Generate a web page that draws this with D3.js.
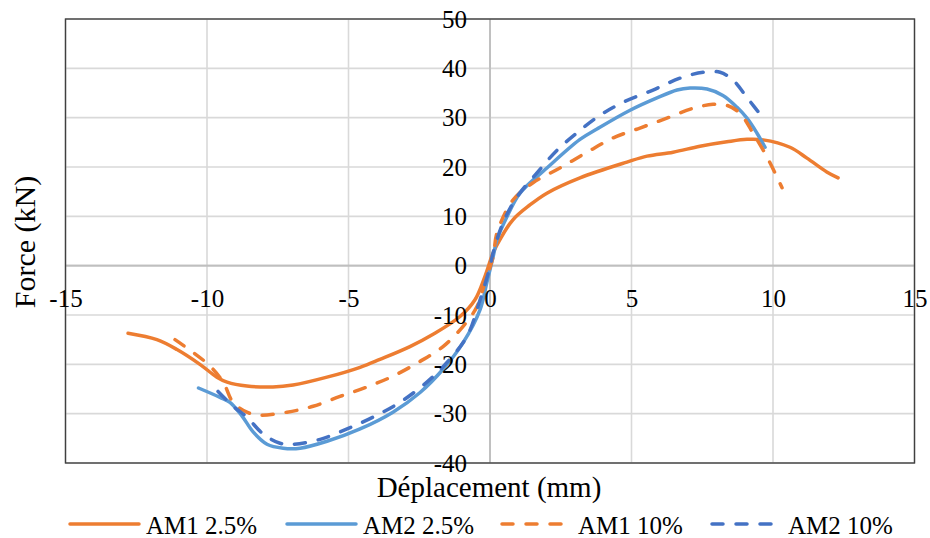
<!DOCTYPE html>
<html>
<head>
<meta charset="utf-8">
<script src="https://cdn.jsdelivr.net/npm/d3@7"></script>
<style>
  html, body { margin: 0; padding: 0; background: #fff; }
  svg text { font-family: "Liberation Serif", "Times New Roman", serif; fill: #000; }
</style>
</head>
<body>
<svg id="chart" width="930" height="538"></svg>
<script>
// ---------- data ----------
const xTicks = [-15, -10, -5, 0, 5, 10, 15];
const yTicks = [-40, -30, -20, -10, 0, 10, 20, 30, 40, 50];
const seriesNames = ["AM1 2.5%", "AM2 2.5%", "AM1 10%", "AM2 10%"];

const am1_25_x = [-12.79, -11.77, -11.06, -10.25, -9.65, -9.29, -8.59, -7.67, -6.96, -5.76, -4.59, -3.89, -2.83, -2.01, -1.06, -0.53, -0.18, 0.11, 0.35, 0.81, 1.41, 2.01, 3.18, 4.84, 5.55, 6.47, 7.42, 8.37, 9.08, 9.65, 10.6, 11.2, 11.9, 12.3];
const am1_25_y = [-13.7, -15.0, -17.0, -20.0, -22.6, -23.6, -24.4, -24.6, -24.2, -22.6, -20.6, -19.0, -16.4, -13.9, -10.3, -6.9, -2.2, 2.6, 5.3, 9.3, 12.3, 14.7, 17.8, 21.0, 22.2, 23.0, 24.2, 25.1, 25.6, 25.5, 24.0, 21.8, 19.0, 17.8];

const am2_25_x = [-10.3, -9.54, -9.19, -8.76, -8.37, -7.88, -7.31, -6.71, -5.76, -4.59, -3.43, -2.47, -1.66, -0.95, -0.35, -0.11, 0.11, 0.25, 0.6, 1.06, 2.01, 3.18, 3.78, 4.95, 5.9, 6.61, 7.07, 7.67, 8.23, 8.73, 9.08, 9.43, 9.72];
const am2_25_y = [-24.8, -26.7, -27.7, -30.5, -33.7, -36.2, -37.0, -37.0, -35.6, -33.1, -29.7, -25.7, -21.0, -15.6, -8.9, -3.4, 1.8, 5.3, 9.9, 14.7, 19.8, 25.6, 27.7, 31.5, 34.0, 35.6, 36.0, 35.8, 34.5, 32.1, 29.9, 26.9, 24.0];

const am1_10_x = [-11.13, -9.96, -9.43, -9.08, -8.59, -8.13, -7.17, -6.25, -5.3, -4.35, -3.43, -2.47, -1.66, -0.95, -0.46, -0.18, 0.11, 0.25, 0.81, 1.52, 2.47, 3.43, 4.35, 5.3, 6.25, 7.17, 7.88, 8.37, 8.83, 9.29, 9.79, 10.32];
const am1_10_y = [-15.0, -20.0, -23.6, -27.7, -29.7, -30.3, -29.7, -28.5, -26.5, -24.6, -22.4, -19.4, -16.4, -12.3, -8.3, -3.4, 1.8, 6.7, 13.3, 16.8, 19.8, 23.0, 25.9, 27.9, 29.9, 31.9, 32.7, 32.5, 30.9, 26.9, 22.0, 15.8];

const am2_10_x = [-9.61, -9.08, -8.59, -8.02, -7.42, -6.96, -6.0, -5.05, -4.13, -3.18, -2.23, -1.52, -0.81, -0.35, 0.0, 0.11, 0.46, 0.95, 1.66, 2.37, 3.07, 3.89, 4.7, 5.76, 6.71, 7.53, 8.13, 8.59, 9.08, 9.65];
const am2_10_y = [-25.5, -28.5, -30.7, -34.1, -36.0, -36.2, -35.2, -33.1, -30.7, -27.7, -23.6, -19.6, -14.3, -6.9, -0.2, 2.6, 8.7, 13.9, 18.8, 23.4, 26.9, 30.5, 33.1, 35.6, 38.0, 39.2, 39.2, 37.6, 34.1, 29.9];

// ---------- styles ----------
const colors = ["#ED7D31", "#5B9BD5", "#ED7D31", "#4472C4"];
const dashes = [null, null, "11,13", "11,13"];
const seriesX = [am1_25_x, am2_25_x, am1_10_x, am2_10_x];
const seriesY = [am1_25_y, am2_25_y, am1_10_y, am2_10_y];

const svg = d3.select("#chart");
const L = 65.5, R = 914.5, T = 19, B = 463;
const x = d3.scaleLinear().domain([-15, 15]).range([L, R]);
const y = d3.scaleLinear().domain([-40, 50]).range([B, T]);

// gridlines
const grid = svg.append("g");
grid.selectAll("line.v").data(xTicks).join("line")
  .attr("x1", d => x(d)).attr("x2", d => x(d)).attr("y1", T).attr("y2", B)
  .attr("stroke", d => d === 0 ? "#bfbfbf" : "#d9d9d9").attr("stroke-width", 1.6);
grid.selectAll("line.h").data(yTicks).join("line")
  .attr("x1", L).attr("x2", R).attr("y1", d => y(d)).attr("y2", d => y(d))
  .attr("stroke", d => d === 0 ? "#bfbfbf" : "#d9d9d9").attr("stroke-width", 1.6);
grid.append("line").attr("x1", x(0)).attr("x2", x(0)).attr("y1", T).attr("y2", B)
  .attr("stroke", "#bfbfbf").attr("stroke-width", 1.8);
grid.append("line").attr("x1", L).attr("x2", R).attr("y1", y(0)).attr("y2", y(0))
  .attr("stroke", "#bfbfbf").attr("stroke-width", 1.8);

// plot border
svg.append("rect").attr("x", L).attr("y", T).attr("width", R - L).attr("height", B - T)
  .attr("fill", "none").attr("stroke", "#404040").attr("stroke-width", 1.4);

// series
const line = d3.line().x(d => x(d[0])).y(d => y(d[1])).curve(d3.curveCatmullRom.alpha(0.5));
seriesX.forEach((xs, i) => {
  const pts = xs.map((v, j) => [v, seriesY[i][j]]);
  svg.append("path").datum(pts)
    .attr("d", line)
    .attr("fill", "none")
    .attr("stroke", colors[i])
    .attr("stroke-width", 3.5)
    .attr("stroke-linecap", "round")
    .attr("stroke-linejoin", "round")
    .attr("stroke-dasharray", dashes[i]);
});

// axes (labels at the zero lines), plain hyphen-minus as in the reference
const fmt = d => String(d);
const xAxis = d3.axisBottom(x).tickValues(xTicks).tickSize(0).tickPadding(0).tickFormat(fmt);
const gx = svg.append("g").attr("transform", `translate(0,${y(0)})`).call(xAxis);
gx.select(".domain").remove();
gx.selectAll("text").attr("font-size", 25).attr("font-family", "Liberation Serif")
  .attr("dy", null).attr("y", 41).attr("fill", "#000");

const yAxis = d3.axisLeft(y).tickValues(yTicks).tickSize(0).tickPadding(23).tickFormat(fmt);
const gy = svg.append("g").attr("transform", `translate(${x(0)},0)`).call(yAxis);
gy.select(".domain").remove();
gy.selectAll("text").attr("font-size", 25).attr("font-family", "Liberation Serif").attr("fill", "#000");

// axis titles
svg.append("text").attr("x", 489).attr("y", 497).attr("text-anchor", "middle")
  .attr("font-size", 29).text("Déplacement (mm)");
svg.append("text").attr("transform", "translate(35,242) rotate(-90)").attr("text-anchor", "middle")
  .attr("font-size", 30).text("Force (kN)");

// legend
const legendX = [70, 287, 502, 712];
const lg = svg.append("g");
seriesNames.forEach((name, i) => {
  lg.append("line").attr("x1", legendX[i]).attr("x2", legendX[i] + 69)
    .attr("y1", 524).attr("y2", 524)
    .attr("stroke", colors[i]).attr("stroke-width", 3.5).attr("stroke-linecap", "round")
    .attr("stroke-dasharray", dashes[i]);
  lg.append("text").attr("x", legendX[i] + 76).attr("y", 534).attr("font-size", 25).text(name);
});
</script>
</body>
</html>
